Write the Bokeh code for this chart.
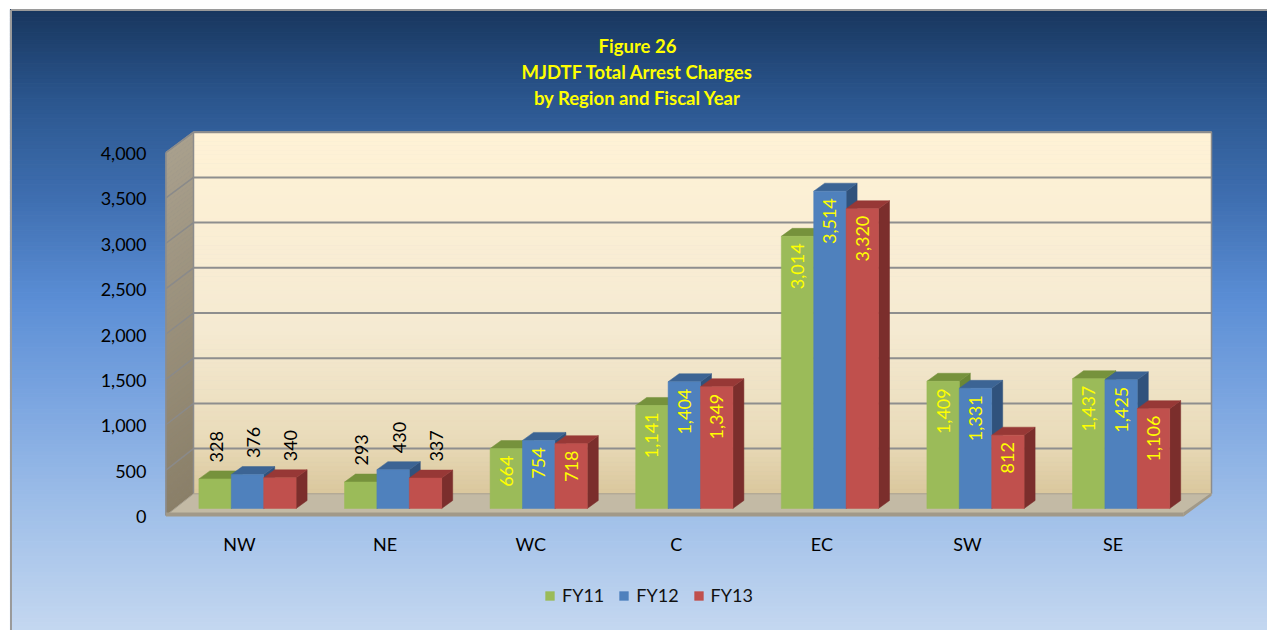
import numpy as np
from bokeh.plotting import figure
from bokeh.models import Range1d, Legend, LegendItem
from bokeh.core.properties import value
from bokeh.embed import file_html
from bokeh.resources import INLINE

# ---------------- data ----------------
regions = ["NW", "NE", "WC", "C", "EC", "SW", "SE"]
series_names = ["FY11", "FY12", "FY13"]
fy11 = [328, 293, 664, 1141, 3014, 1409, 1437]
fy12 = [376, 430, 754, 1404, 3514, 1331, 1425]
fy13 = [340, 337, 718, 1349, 3320, 812, 1106]
y_ticks = [0, 500, 1000, 1500, 2000, 2500, 3000, 3500, 4000]
y_tick_labels = ["0", "500", "1,000", "1,500", "2,000", "2,500", "3,000", "3,500", "4,000"]
title_lines = ["Figure 26", "MJDTF Total Arrest Charges", "by Region and Fiscal Year"]

front_colors = ["#9bbb59", "#4f81bd", "#c0504d"]
top_colors = ["#76923c", "#3c6494", "#973836"]
side_colors = ["#6b8735", "#30527c", "#7b2e2c"]
series_values = [fy11, fy12, fy13]

# ---------------- layout (pixel geometry of the 3-D box) ----------------
W, H = 1267, 630
PAGE = 0
PX_X = 145.6      # px per category
PX_Y = 0.0903     # px per unit value
CAT0_X = 247      # px of category 0 center
ZERO_Y = 508      # px of value 0 on bar front plane


def dx(X):
    return (X - CAT0_X) / PX_X


def dy(Y):
    return (ZERO_Y - Y) / PX_Y


x_range = Range1d(dx(PAGE), dx(PAGE + W))
y_range = Range1d(dy(PAGE + H), dy(PAGE))

p = figure(width=W, height=H, x_range=x_range, y_range=y_range,
           output_backend="svg", toolbar_location=None, min_border=0,
           x_axis_location=None, y_axis_location=None)
p.grid.visible = False
p.outline_line_color = None
p.background_fill_color = "white"
p.border_fill_color = "white"


def hex2rgb(h):
    h = h.lstrip("#")
    return np.array([int(h[i:i + 2], 16) for i in (0, 2, 4)], dtype=float)


def interp_color(stops, t):
    for (t0, c0), (t1, c1) in zip(stops[:-1], stops[1:]):
        if t <= t1:
            f = 0 if t1 == t0 else (t - t0) / (t1 - t0)
            c = hex2rgb(c0) * (1 - f) + hex2rgb(c1) * f
            return "#%02x%02x%02x" % tuple(int(round(v)) for v in c)
    return stops[-1][1]


# ---------------- outer gradient background ----------------
bg_stops = [(9, "#18365e"), (100, "#2b568e"), (200, "#3f6fb1"), (300, "#5b8ed5"),
            (400, "#7ba5e0"), (500, "#9cbde8"), (630, "#c4d7f0")]
N = 160
Ys = np.linspace(9, H, N + 1)
bg_cols = [interp_color(bg_stops, (a + b) / 2) for a, b in zip(Ys[:-1], Ys[1:])]
p.quad(left=dx(10), right=dx(W + 2),
       bottom=[dy(y) for y in Ys[1:]], top=[dy(y) for y in Ys[:-1]],
       fill_color=bg_cols, line_color=bg_cols, line_width=1.2)
# outer border
p.multi_line(xs=[[dx(10.5), dx(10.5)], [dx(10.5), dx(W + 2)]],
             ys=[[dy(H + 2), dy(9.5)], [dy(9.5), dy(9.5)]],
             line_color="#9a9a9a", line_width=2)

# ---------------- 3-D box ----------------
FX, BX, RX, FRX = 165.5, 193.0, 1211.0, 1183.0       # front-left, back-left, back-right, front-right
F_TOP, F_BOT = 152.0, 515.0                            # front edge of left wall
B_TOP, B_BOT = 131.7, 493.3                            # back wall


def y_front(v):
    return F_BOT - v * (F_BOT - F_TOP) / 4000.0


def y_back(v):
    return B_BOT - v * (B_BOT - B_TOP) / 4000.0


# back wall gradient
wall_stops = [(0.0, "#fff2d6"), (0.55, "#f5ead2"), (0.85, "#e9dbb9"), (1.0, "#dac79d")]
M = 80
ts = np.linspace(0, 1, M + 1)
wall_cols = [interp_color(wall_stops, (a + b) / 2) for a, b in zip(ts[:-1], ts[1:])]
p.quad(left=dx(BX), right=dx(RX),
       top=[dy(B_TOP + t * (B_BOT - B_TOP)) for t in ts[:-1]],
       bottom=[dy(B_TOP + t * (B_BOT - B_TOP)) for t in ts[1:]],
       fill_color=wall_cols, line_color=wall_cols, line_width=1)
# left wall gradient
lw_stops = [(0.0, "#a9a08d"), (1.0, "#8a7f68")]
lxs, lys, lcs = [], [], []
for a, b in zip(ts[:-1], ts[1:]):
    fa, fb = F_TOP + a * (F_BOT - F_TOP), F_TOP + b * (F_BOT - F_TOP)
    ba, bb = B_TOP + a * (B_BOT - B_TOP), B_TOP + b * (B_BOT - B_TOP)
    lxs.append([dx(FX), dx(BX), dx(BX), dx(FX)])
    lys.append([dy(fa), dy(ba), dy(bb), dy(fb)])
    lcs.append(interp_color(lw_stops, (a + b) / 2))
p.patches(xs=lxs, ys=lys, fill_color=lcs, line_color=lcs, line_width=1)

# gridlines on back wall and left wall
gv = [v for v in y_ticks if v > 0]
p.multi_line(xs=[[dx(BX), dx(RX)] for v in gv], ys=[[dy(y_back(v)), dy(y_back(v))] for v in gv],
             line_color="#8e8e8e", line_width=2)
p.multi_line(xs=[[dx(FX), dx(BX)] for v in gv], ys=[[dy(y_front(v)), dy(y_back(v))] for v in gv],
             line_color="#8a8a8a", line_width=1.5)
# wall outlines
p.multi_line(xs=[[dx(FX), dx(BX), dx(RX), dx(RX)], [dx(BX), dx(BX)], [dx(FX), dx(FX)]],
             ys=[[dy(F_TOP), dy(B_TOP), dy(B_TOP), dy(B_BOT)], [dy(B_TOP), dy(B_BOT)],
                 [dy(F_TOP), dy(F_BOT)]],
             line_color="#8c8c8c", line_width=1.5)

# floor
p.patch(x=[dx(FX), dx(FRX), dx(RX), dx(BX)], y=[dy(F_BOT), dy(F_BOT), dy(B_BOT), dy(B_BOT)],
        fill_color="#c3baa5", line_color="#a8a08f", line_width=1)
p.patch(x=[dx(FX), dx(FRX), dx(FRX), dx(FX)], y=[dy(F_BOT - 3), dy(F_BOT - 3), dy(F_BOT + 1), dy(F_BOT + 1)],
        fill_color="#a19989", line_color=None)
p.patch(x=[dx(FRX), dx(RX), dx(RX), dx(FRX)], y=[dy(F_BOT - 3), dy(B_BOT - 1), dy(B_BOT + 2), dy(F_BOT + 1)],
        fill_color="#a19989", line_color=None)

# ---------------- 3-D bars ----------------
BAR_W = 32.4 / PX_X
DDX = 11.0 / PX_X
DDY = 8.0 / PX_Y
front_renderers = []
for j, vals in enumerate(series_values):
    cx = [i + (j - 1) * BAR_W for i in range(len(regions))]
    sx, sy, tx, ty = [], [], [], []
    for c, v in zip(cx, vals):
        l, r = c - BAR_W / 2, c + BAR_W / 2
        sx.append([r, r + DDX, r + DDX, r])
        sy.append([0, DDY, v + DDY, v])
        tx.append([l, r, r + DDX, l + DDX])
        ty.append([v, v, v + DDY, v + DDY])
    p.patches(xs=sx, ys=sy, fill_color=side_colors[j], line_color=side_colors[j], line_width=0.5)
    p.patches(xs=tx, ys=ty, fill_color=top_colors[j], line_color=top_colors[j], line_width=0.5)
    fr = p.vbar(x=cx, width=BAR_W, top=vals, bottom=0, fill_color=front_colors[j],
                line_color=front_colors[j], line_width=0.5)
    front_renderers.append(fr)

    # data labels
    out_x, out_y, out_t, in_x, in_y, in_t = [], [], [], [], [], []
    for c, v in zip(cx, vals):
        txt = f"{v:,}"
        if v * PX_Y < 45:
            out_x.append(c + (1 + 5 * j) / PX_X)
            out_y.append(v + 16.5 / PX_Y)
            out_t.append(txt)
        else:
            in_x.append(c)
            in_y.append(v - 7.0 / PX_Y)
            in_t.append(txt)
    p.text(x=out_x, y=out_y, text=out_t, angle=np.pi / 2, text_align="left", text_baseline="middle",
           text_font=value("Lato"), text_font_size="18px", text_color="#000000")
    p.text(x=in_x, y=in_y, text=in_t, angle=np.pi / 2, text_align="right", text_baseline="middle",
           text_font=value("Lato"), text_font_size="18px", text_color="#ffff00")

# ---------------- axis texts ----------------
p.text(x=[dx(146)] * len(y_ticks), y=[dy(y_front(v) + 1) for v in y_ticks], text=y_tick_labels,
       text_align="right", text_baseline="middle", text_font=value("Lato"),
       text_font_size="18px", text_color="#000000")
p.text(x=[i - 8.0 / PX_X for i in range(len(regions))], y=[dy(543)] * len(regions), text=regions,
       text_align="center", text_baseline="middle", text_font=value("Lato"),
       text_font_size="18px", text_color="#000000")

# ---------------- title ----------------
p.text(x=[dx(637)] * 3, y=[dy(45), dy(71), dy(97)], text=title_lines,
       text_align="center", text_baseline="middle", text_font=value("Lato"),
       text_font_size="18.5px", text_font_style="bold", text_color="#ffff00")

# ---------------- legend ----------------
legend = Legend(items=[LegendItem(label=n, renderers=[r]) for n, r in zip(series_names, front_renderers)],
                orientation="horizontal", location=(544, H - 606),
                background_fill_alpha=0, border_line_alpha=0,
                glyph_width=11, glyph_height=11, label_standoff=7, spacing=14,
                padding=0, margin=0, label_height=20,
                label_text_font="Lato", label_text_font_size="18px", label_text_color="#111111")
p.add_layout(legend)

open("out.html", "w").write(file_html(p, INLINE))
